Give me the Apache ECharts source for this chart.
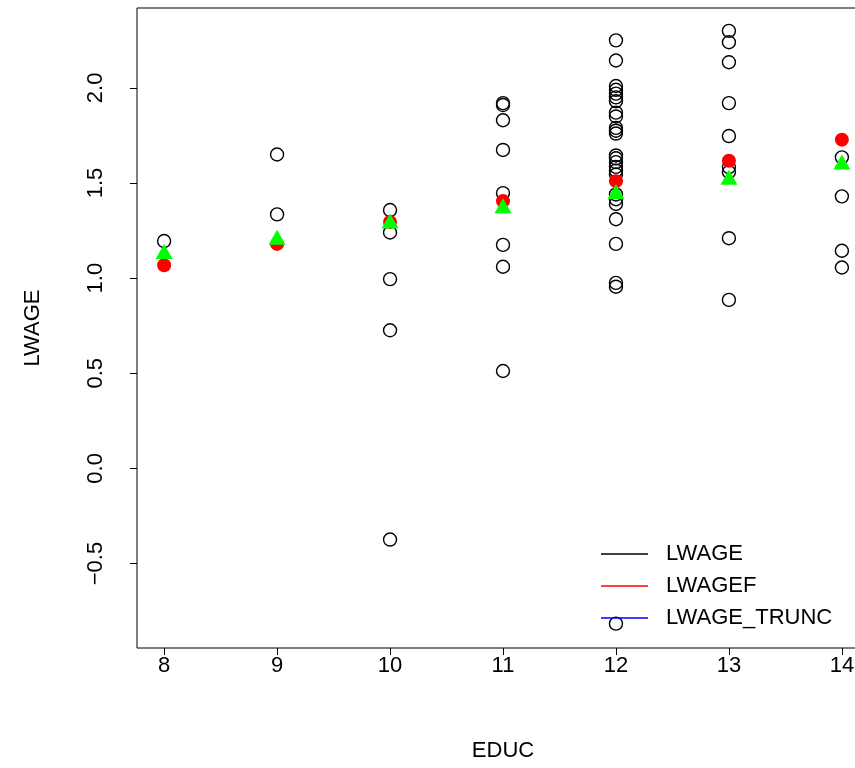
<!DOCTYPE html>
<html>
<head>
<meta charset="utf-8">
<script src="https://cdn.jsdelivr.net/npm/echarts@6/dist/echarts.min.js"></script>
<style>
  html, body { margin: 0; padding: 0; background: #fff; overflow: hidden; }
  /* plot box runs past the right edge of the 855px window, like the original */
  #chart { width: 880px; height: 768px; }
</style>
</head>
<body>
<div id="chart"></div>
<script>
// observed LWAGE values, one array per EDUC level
const lwage8 = [1.195];
const lwage9 = [1.65, 1.335];
const lwage10 = [1.358, 1.24, 0.995, 0.726, -0.374];
const lwage11 = [1.92, 1.91, 1.83, 1.674, 1.447, 1.175, 1.06, 0.512];
const lwage12 = [2.25, 2.144, 2.01, 1.99, 1.97, 1.95, 1.93, 1.87, 1.85, 1.79, 1.775, 1.76,
  1.645, 1.63, 1.61, 1.585, 1.565, 1.545, 1.44, 1.415, 1.39, 1.31, 1.18, 0.975, 0.955, -0.816];
const lwage13 = [2.30, 2.24, 2.135, 1.92, 1.747, 1.584, 1.558, 1.21, 0.886];
const lwage14 = [1.635, 1.43, 1.144, 1.056];

const educ = [8, 9, 10, 11, 12, 13, 14];
const lwagef = [1.068, 1.18, 1.295, 1.405, 1.51, 1.617, 1.728];
const lwageTrunc = [1.14, 1.215, 1.30, 1.38, 1.455, 1.53, 1.61];

const xTicks = [8, 9, 10, 11, 12, 13, 14];
const yTicks = [-0.5, 0, 0.5, 1.0, 1.5, 2.0];

const font = "'Liberation Sans', Arial, sans-serif";
const fontSize = 22;

const lwageByEduc = [lwage8, lwage9, lwage10, lwage11, lwage12, lwage13, lwage14];
const lwagePoints = [];
lwageByEduc.forEach((vals, i) => {
  vals.forEach(v => lwagePoints.push([educ[i], v]));
});

const chart = echarts.init(document.getElementById('chart'));

const axisCommon = {
  type: 'value',
  axisLine: { show: false, onZero: false },
  splitLine: { show: false },
  axisTick: {
    show: true,
    length: 7,
    lineStyle: { color: '#000', width: 1 }
  },
  nameTextStyle: { color: '#000', fontSize: fontSize, fontFamily: font }
};

chart.setOption({
  animation: false,
  backgroundColor: '#fff',
  grid: {
    left: 137, top: 8, right: 11, bottom: 120,
    show: true, borderColor: '#000', borderWidth: 1, backgroundColor: 'transparent'
  },
  legend: {
    orient: 'vertical',
    left: 596,
    top: 537,
    itemWidth: 47,
    itemHeight: 1.5,
    itemGap: 8,
    selectedMode: false,
    textStyle: { color: '#000', fontSize: fontSize, fontFamily: font, lineHeight: 24, padding: [0, 0, 0, 13] },
    data: [
      { name: 'LWAGE', icon: 'rect', itemStyle: { color: '#000', borderWidth: 0 } },
      { name: 'LWAGEF', icon: 'rect', itemStyle: { color: '#ff0000', borderWidth: 0 } },
      { name: 'LWAGE_TRUNC', icon: 'rect', itemStyle: { color: '#0000ff', borderWidth: 0 } }
    ]
  },
  xAxis: Object.assign({}, axisCommon, {
    min: 7.76,
    max: 14.24,
    name: 'EDUC',
    nameLocation: 'middle',
    nameGap: 92,
    axisTick: Object.assign({}, axisCommon.axisTick, { customValues: xTicks }),
    axisLabel: {
      customValues: xTicks,
      margin: 7,
      color: '#000', fontSize: fontSize, fontFamily: font
    }
  }),
  yAxis: Object.assign({}, axisCommon, {
    min: -0.944,
    max: 2.42,
    name: 'LWAGE',
    nameLocation: 'middle',
    nameGap: 93,
    axisTick: Object.assign({}, axisCommon.axisTick, { customValues: yTicks }),
    axisLabel: {
      customValues: yTicks,
      rotate: 90,
      margin: 30,
      color: '#000', fontSize: fontSize, fontFamily: font,
      formatter: v => (v < 0 ? '\u2212' + Math.abs(v).toFixed(1) : v.toFixed(1))
    }
  }),
  series: [
    {
      name: 'LWAGE',
      type: 'scatter',
      data: lwagePoints,
      symbol: 'circle',
      symbolSize: 13,
      itemStyle: { color: 'transparent', borderColor: '#000', borderWidth: 1.4, opacity: 1 },
      emphasis: { disabled: true }
    },
    {
      name: 'LWAGEF',
      type: 'scatter',
      data: educ.map((e, i) => [e, lwagef[i]]),
      symbol: 'circle',
      symbolSize: 14,
      itemStyle: { color: '#ff0000', opacity: 1 },
      emphasis: { disabled: true }
    },
    {
      name: 'LWAGE_TRUNC',
      type: 'scatter',
      data: educ.map((e, i) => [e, lwageTrunc[i]]),
      symbol: 'triangle',
      symbolSize: [17, 15],
      itemStyle: { color: '#00ff00', opacity: 1 },
      emphasis: { disabled: true }
    }
  ]
});
</script>
</body>
</html>
